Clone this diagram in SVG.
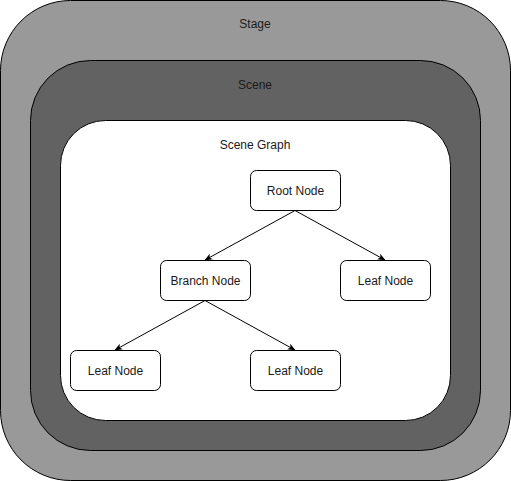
<svg xmlns="http://www.w3.org/2000/svg" width="511" height="481" viewBox="0 0 511 481">
<style>
text{font-family:"Liberation Sans",Arial,sans-serif;font-size:12px;fill:#1a1a1a;text-anchor:middle;dominant-baseline:central}
.node rect{fill:#fff;stroke:#000;stroke-width:1}
.edge{stroke:#000;stroke-width:1;fill:none;marker-end:url(#arr)}
</style>
<defs>
<marker id="arr" viewBox="0 0 10 10" refX="9" refY="5" markerWidth="8" markerHeight="8" markerUnits="userSpaceOnUse" orient="auto">
<path d="M0,1 L10,5 L0,9 L2.5,5 Z" fill="#000"/>
</marker>
</defs>
<g id="stage"><rect x="0.5" y="0.5" width="510" height="480" rx="70" ry="70" fill="#999999" stroke="#000"/><text x="255" y="24">Stage</text></g>
<g id="scene"><rect x="30.5" y="60.5" width="450" height="390" rx="60" ry="60" fill="#626262" stroke="#000"/><text x="255" y="85">Scene</text></g>
<g id="scene-graph"><rect x="60.5" y="120.5" width="390" height="300" rx="45" ry="45" fill="#fff" stroke="#000"/><text x="255" y="145">Scene Graph</text></g>
<g id="connectors">
<line class="edge" x1="295" y1="210.5" x2="205" y2="260"/>
<line class="edge" x1="295" y1="210.5" x2="385" y2="260"/>
<line class="edge" x1="205" y1="300.5" x2="115" y2="350"/>
<line class="edge" x1="205" y1="300.5" x2="295" y2="350"/>
</g>
<g id="root" class="node"><rect x="250.5" y="170.5" width="90" height="40" rx="6"/><text x="295.5" y="190.5">Root Node</text></g>
<g id="branch" class="node"><rect x="160.5" y="260.5" width="90" height="40" rx="6"/><text x="205.5" y="280.5">Branch Node</text></g>
<g id="leaf1" class="node"><rect x="340.5" y="260.5" width="90" height="40" rx="6"/><text x="385.5" y="280.5">Leaf Node</text></g>
<g id="leaf2" class="node"><rect x="70.5" y="350.5" width="90" height="40" rx="6"/><text x="115.5" y="370.5">Leaf Node</text></g>
<g id="leaf3" class="node"><rect x="250.5" y="350.5" width="90" height="40" rx="6"/><text x="295.5" y="370.5">Leaf Node</text></g>
</svg>
